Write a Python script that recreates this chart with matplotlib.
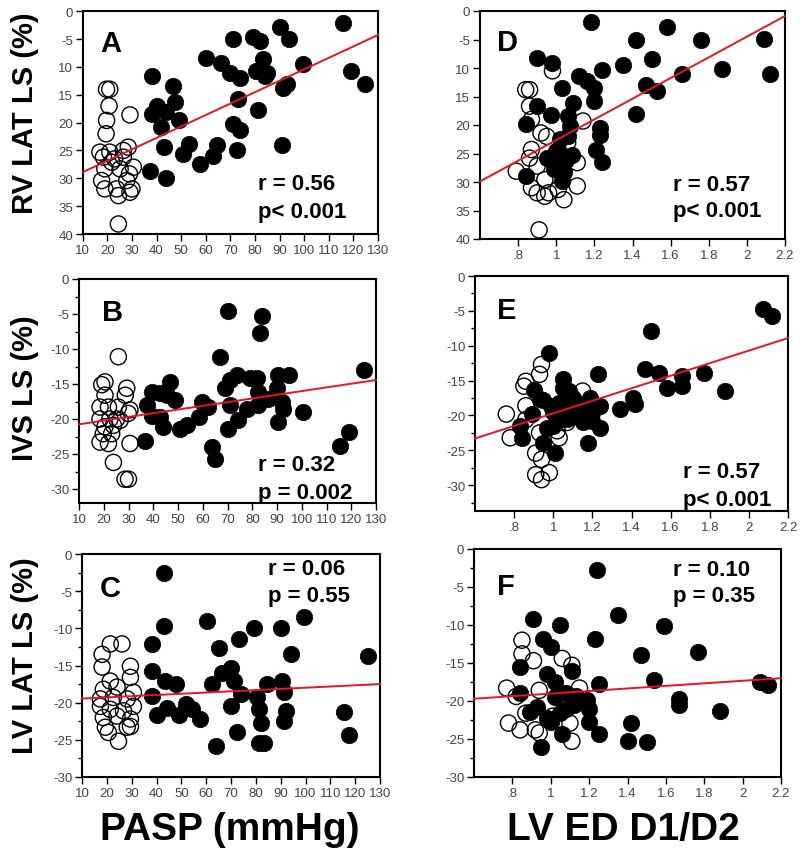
import matplotlib
matplotlib.use("Agg")
import matplotlib.pyplot as plt
from matplotlib.ticker import MultipleLocator

plt.rcParams['font.family'] = ['Liberation Sans', 'DejaVu Sans']

# ---------------- Panel A: RV LAT LS (magnitude, axis inverted) vs PASP
A_fill_x = [38, 40, 38, 43.7, 42, 43, 37.3, 44, 46.8, 47.5, 49, 50.6, 53, 57.6, 60.3, 63, 64.4,
            66.4, 69.8, 70.9, 71.2, 72.5, 73.2, 73.8, 74, 79.1, 81.9, 81.3, 80.6, 83.3, 84.7, 84,
            90, 94, 90.8, 91.5, 93, 99.6, 115.8, 119.2, 124.6]
A_fill_y = [11.7, 17, 18.5, 18, 20.8, 24.4, 28.6, 30, 13.5, 16.3, 19.6, 25.6, 23.8, 27.4, 8.4, 26, 24.1,
            9.2, 11, 5, 20.2, 25, 15.8, 21.4, 11.9, 4.7, 5.3, 17.8, 10.7, 8.6, 11, 11.6,
            2.9, 5, 24.1, 13.7, 13, 9.5, 2.1, 10.7, 13.1]
A_open_x = [19.7, 21, 20.7, 19.7, 19.5, 29.2, 17, 18.4, 21, 23, 19, 26.5, 28.5, 26.5, 19, 23.8, 24.5,
            30, 29.2, 30.6, 27.9, 25.2, 17.7, 24.5, 21.8, 29]
A_open_y = [14, 14, 17, 19.6, 22, 18.6, 25.3, 26.2, 25.3, 26.5, 28.3, 26.2, 24.4, 25, 31.9, 31.9, 33.1,
            31.9, 32.5, 28, 30.4, 28.3, 30.4, 38.2, 27.1, 29.2]
A_fit = (28.9, -0.2054)   # value at x=10, slope

# ---------------- Panel D: RV LAT LS vs LV ED D1/D2
D_fill_x = [1.18, 1.58, 1.42, 1.76, 2.09, 1.50, 1.35, 1.24, 1.87, 2.12, 1.66, 1.47, 1.53, 1.42, 0.90,
            0.98, 1.12, 1.16, 1.20, 1.20, 1.03, 1.09, 0.90, 0.97, 0.84, 1.06, 1.07, 1.23, 1.23, 1.21,
            1.24, 1.02, 1.01, 1.08, 0.95, 0.99, 1.03, 0.84, 1.05, 1.02, 1.04, 1.00, 1.06]
D_fill_y = [1.9, 2.8, 5, 5, 4.9, 8.5, 9.4, 10.4, 10.2, 11, 11.1, 12.9, 14.1, 18, 8.2,
            9.1, 11.4, 12.3, 13.5, 15.8, 13.5, 16.1, 16.7, 18.2, 19.9, 18.4, 20.2, 20.5, 21.7, 24.3,
            26.5, 22.5, 24.3, 25.2, 25.8, 27.8, 29.9, 28.9, 26.1, 26.8, 28.2, 24.6, 22.0]
D_open_x = [0.86, 0.84, 0.98, 0.86, 0.87, 0.92, 0.95, 0.87, 0.86, 0.79, 0.87, 0.90, 0.94, 0.96, 1.01,
            1.04, 1.11, 1.11, 1.14, 0.91, 1.06, 0.94, 0.90]
D_open_y = [13.8, 13.8, 10.5, 16.7, 19, 21.4, 22, 24.3, 25.8, 28.1, 31, 31.9, 32.5, 31.9, 31.3,
            33.1, 26.6, 30.7, 19.3, 38.4, 23.1, 29.6, 27.2]
D_fit = (29.9, -18.14)    # value at x=0.6, slope

# ---------------- Panel B: IVS LS vs PASP
B_fill_x = [70.4, 83.9, 83.2, 67, 125, 90.6, 94.7, 79.2, 81.9, 73.8, 71.1, 46.8, 69, 90, 82.5, 39.4,
            42.8, 45.5, 48.8, 37.4, 59.6, 62.3, 71.1, 82.5, 92, 92.6, 39.4, 42.8, 100.7, 74.4, 90.6,
            58.3, 44, 50.8, 53.5, 70.4, 36.7, 63.7, 65, 115.6, 119, 77.8, 86.4]
B_fill_y = [-4.6, -5.3, -7.7, -11.1, -13, -13.7, -13.7, -14.2, -14.2, -13.7, -14.4, -14.7, -15.6, -15.6,
            -16.1, -16.1, -16.3, -16.6, -17.3, -18, -17.5, -18.3, -18, -18, -17.5, -18.5, -19.5, -19.7,
            -19, -20.2, -20.4, -19.7, -21.1, -21.4, -20.9, -21.4, -23.2, -24, -25.7, -23.8, -21.9,
            -18.5, -17.1]
B_open_x = [25.9, 19.2, 20.5, 29.3, 28.7, 20.5, 18.5, 21.9, 25.9, 30.6, 18.5, 22.5, 26.6, 29.9, 20.5,
            23.9, 19.8, 18.5, 21.9, 30.6, 23.9, 28.6, 30, 25.2, 23.2]
B_open_y = [-11.1, -15.1, -14.7, -15.6, -16.6, -16.6, -18.3, -18.3, -18.3, -18.7, -20, -20, -20.2,
            -19.2, -21.1, -20.9, -22.1, -23.3, -23.5, -23.5, -26.2, -28.6, -28.6, -20, -22.1]
B_fit = (-20.76, 0.05275)

# ---------------- Panel E: IVS LS vs LV ED D1/D2
E_fill_x = [2.07, 2.12, 1.50, 0.98, 1.23, 1.47, 1.54, 1.66, 1.77, 1.58, 1.66, 1.88, 1.41, 1.42, 1.34,
            1.05, 1.08, 0.90, 0.93, 0.99, 1.03, 1.12, 1.19, 1.24, 1.20, 1.14, 1.20, 1.24, 1.03, 0.97,
            0.83, 0.84, 0.95, 1.01, 1.18, 1.08, 1.00, 0.89, 1.05, 1.10, 1.13, 1.07, 1.00, 0.95, 1.15]
E_fill_y = [-4.8, -5.7, -7.9, -11, -14.1, -13.4, -13.9, -14.3, -13.9, -16, -15.8, -16.5, -17.5, -18.4,
            -19.1, -14.8, -16.5, -16.3, -17.7, -18.6, -18.2, -18.6, -17.5, -18.6, -19.6, -20.1, -20.8,
            -21.8, -20.6, -21.8, -21.5, -23.2, -23.9, -25.4, -23.9, -19.4, -21.5, -19.8, -16.0, -17.5,
            -19.0, -20.5, -19.5, -17.8, -21.0]
E_open_x = [0.94, 0.93, 0.86, 0.85, 1.15, 0.76, 0.86, 0.86, 0.78, 0.91, 0.94, 0.91, 0.98, 0.94, 1.03,
            1.02, 1.07, 0.93]
E_open_y = [-12.7, -14.1, -15.1, -15.8, -16.5, -19.8, -18.6, -20.6, -23.2, -25.4, -26.3, -28.5, -28.2,
            -29.2, -23.2, -22.2, -21.0, -22.5]
E_fit = (-23.3, 9.0)

# ---------------- Panel C: LV LAT LS vs PASP
C_fill_x = [43, 43, 38.2, 38.2, 38.2, 40.3, 43.6, 47.7, 44.3, 49, 51.7, 54.4, 57.7, 60.4, 62.5, 65.1,
            63.8, 66.5, 69.9, 71.2, 69.9, 73.9, 72.5, 73.2, 79.3, 80.6, 81.3, 82, 81.3, 83.3, 84.6,
            90, 90.7, 91.4, 92.1, 91.4, 94.1, 99.4, 115.6, 117.6, 125]
C_fill_y = [-2.6, -9.7, -12.1, -15.7, -19.1, -21.6, -17.1, -17.5, -20.7, -21.6, -20.2, -20.9, -22.2,
            -9, -17.5, -12.6, -25.8, -16, -15.3, -17.1, -20.4, -18.9, -24, -11.5, -9.9, -19.3, -20.9,
            -22.7, -25.4, -25.4, -17.5, -9.9, -17.1, -18.6, -21.1, -22.5, -13.5, -8.5, -21.3, -24.3,
            -13.7]
C_open_x = [21.4, 26.1, 18.1, 18.1, 29.5, 29.5, 21.4, 18.6, 24.1, 30.7, 17.4, 22.6, 28.2, 17.4, 30.7,
            21.4, 26.7, 18.6, 24.1, 29.5, 19.4, 28.2, 20.6, 24.7, 29.5]
C_open_y = [-12.1, -12.1, -13.5, -15.2, -15.1, -16.6, -17.1, -18.2, -17.9, -18.6, -19.5, -19.3, -19.5,
            -20.5, -20.5, -20.9, -21.1, -22, -21.8, -22.2, -23.3, -23.3, -24, -25.2, -23.2]
C_fit = (-19.45, 0.01625)

# ---------------- Panel F: LV LAT LS vs LV ED D1/D2
F_fill_x = [1.24, 1.35, 0.91, 1.05, 1.59, 1.23, 0.96, 1.00, 1.47, 1.77, 0.84, 1.11, 0.98, 1.54, 1.25,
            1.02, 1.08, 2.09, 2.13, 0.84, 1.19, 1.67, 1.67, 1.20, 0.89, 1.05, 1.88, 0.98, 1.20, 1.42,
            1.06, 1.25, 1.40, 1.50, 0.95, 0.93, 1.13, 1.02, 1.08, 1.00, 1.12]
F_fill_y = [-2.8, -8.7, -9.2, -10, -10.1, -11.8, -11.8, -12.9, -14, -13.6, -15.5, -16, -16.4, -17.3,
            -17.7, -17.5, -19, -17.5, -17.9, -19, -19.9, -19.7, -20.5, -21, -21.4, -21.6, -21.3,
            -22.3, -22.7, -22.9, -24.4, -24.4, -25.3, -25.4, -26, -20.8, -19.4, -19.5, -21.0, -22.8,
            -20.5]
F_open_x = [0.85, 0.85, 0.91, 1.06, 1.11, 0.77, 0.94, 1.15, 0.87, 0.78, 0.84, 0.92, 0.94, 1.11, 1.10,
            0.82, 1.01]
F_open_y = [-12, -13.8, -14.7, -14.4, -15.3, -18.3, -18.6, -18.3, -21.6, -22.9, -23.8, -23.8, -24.2,
            -25.3, -22.9, -19.4, -22]
F_fit = (-19.7, 1.6875)

left_ticks = list(range(10, 131, 10))
left_ticklabels = [str(t) for t in left_ticks]
right_ticks = [0.8, 1.0, 1.2, 1.4, 1.6, 1.8, 2.0, 2.2]
right_ticklabels = ['.8', '1', '1.2', '1.4', '1.6', '1.8', '2', '2.2']
rv_yticks = [0, 5, 10, 15, 20, 25, 30, 35, 40]
rv_yticklabels = ['0', '-5', '10', '15', '20', '25', '30', '35', '40']

fig = plt.figure(figsize=(8.0, 8.54), dpi=100)

W, H = 800.0, 854.0
def box(l, r, t, b):
    return [l / W, 1 - b / H, (r - l) / W, (b - t) / H]

panels = [
    dict(name='A', rect=box(82.7, 378, 12.3, 235), fx=A_fill_x, fy=A_fill_y, ox=A_open_x, oy=A_open_y,
         fit=A_fit, x0=10, xlim=(10, 130), ylim=(40, 0), side='L', rv=True,
         r='r = 0.56', p='p< 0.001', rpos=(0.594, 0.225, 0.10), lpos=(0.06, 0.858)),
    dict(name='D', rect=box(480, 785, 12, 240), fx=D_fill_x, fy=D_fill_y, ox=D_open_x, oy=D_open_y,
         fit=D_fit, x0=0.6, xlim=(0.6, 2.2), ylim=(40, 0), side='R', rv=True,
         r='r = 0.57', p='p< 0.001', rpos=(0.633, 0.24, 0.123), lpos=(0.055, 0.864)),
    dict(name='B', rect=box(79, 376, 280, 504), fx=B_fill_x, fy=B_fill_y, ox=B_open_x, oy=B_open_y,
         fit=B_fit, x0=10, xlim=(10, 130), ylim=(-32, 0), side='L', rv=False,
         r='r = 0.32', p='p = 0.002', rpos=(0.603, 0.174, 0.049), lpos=(0.077, 0.853)),
    dict(name='E', rect=box(475, 788, 277, 512), fx=E_fill_x, fy=E_fill_y, ox=E_open_x, oy=E_open_y,
         fit=E_fit, x0=0.6, xlim=(0.6, 2.2), ylim=(-33.7, 0), side='R', rv=False,
         r='r = 0.57', p='p< 0.001', rpos=(0.665, 0.166, 0.051), lpos=(0.07, 0.855)),
    dict(name='C', rect=box(82, 380, 555, 778), fx=C_fill_x, fy=C_fill_y, ox=C_open_x, oy=C_open_y,
         fit=C_fit, x0=10, xlim=(10, 130), ylim=(-30, 0), side='L', rv=False,
         r='r = 0.06', p='p = 0.55', rpos=(0.624, 0.933, 0.812), lpos=(0.06, 0.848)),
    dict(name='F', rect=box(474, 781, 550, 778), fx=F_fill_x, fy=F_fill_y, ox=F_open_x, oy=F_open_y,
         fit=F_fit, x0=0.6, xlim=(0.6, 2.2), ylim=(-30, 0), side='R', rv=False,
         r='r = 0.10', p='p = 0.35', rpos=(0.648, 0.912, 0.794), lpos=(0.075, 0.838)),
]

tick_color = '#444444'
for P in panels:
    ax = fig.add_axes(P['rect'])
    ax.scatter(P['ox'], P['oy'], s=135, facecolors='none', edgecolors='black', linewidths=1.0, zorder=2)
    ax.scatter(P['fx'], P['fy'], s=140, c='black', edgecolors='black', linewidths=0.5, zorder=3)
    x0 = P['x0']
    x1 = P['xlim'][1]
    y0 = P['fit'][0]
    y1 = y0 + P['fit'][1] * (x1 - x0)
    ax.plot([x0, x1], [y0, y1], color='#e8141e', lw=1.4, zorder=4, clip_on=False)
    ax.set_xlim(*P['xlim'])
    ax.set_ylim(*P['ylim'])
    if P['side'] == 'L':
        ax.set_xticks(left_ticks)
        ax.set_xticklabels(left_ticklabels)
    else:
        ax.set_xticks(right_ticks)
        ax.set_xticklabels(right_ticklabels)
    if P['rv']:
        ax.set_yticks(rv_yticks)
        ax.set_yticklabels(rv_yticklabels)
    else:
        ax.yaxis.set_major_locator(MultipleLocator(5))
        ax.yaxis.set_minor_locator(MultipleLocator(2.5))
        ax.set_yticklabels([f'{int(t)}' for t in ax.get_yticks()])
    ax.tick_params(axis='both', which='major', direction='out', length=5, width=1.0,
                   labelsize=9.5, labelcolor=tick_color, top=False, right=False, pad=2)
    ax.tick_params(axis='y', which='minor', direction='out', length=3, width=1.0)
    for sp in ax.spines.values():
        sp.set_linewidth(1.5)
    ax.text(P['lpos'][0], P['lpos'][1], P['name'], transform=ax.transAxes, fontsize=21,
            fontweight='bold', ha='left', va='center', zorder=5)
    ax.text(P['rpos'][0], P['rpos'][1], P['r'], transform=ax.transAxes, fontsize=16,
            fontweight='bold', ha='left', va='center', zorder=5)
    ax.text(P['rpos'][0], P['rpos'][2], P['p'], transform=ax.transAxes, fontsize=16,
            fontweight='bold', ha='left', va='center', zorder=5)

fig.text(25 / W, 1 - 113 / H, 'RV LAT LS (%)', rotation=90, fontsize=21, fontweight='bold',
         ha='center', va='center')
fig.text(25 / W, 1 - 388 / H, 'IVS LS (%)', rotation=90, fontsize=21, fontweight='bold',
         ha='center', va='center')
fig.text(25 / W, 1 - 656 / H, 'LV LAT LS (%)', rotation=90, fontsize=21, fontweight='bold',
         ha='center', va='center')
fig.text(230 / W, 1 - 830 / H, 'PASP (mmHg)', fontsize=28, fontweight='bold', ha='center', va='center')
fig.text(623 / W, 1 - 830 / H, 'LV ED D1/D2', fontsize=28, fontweight='bold', ha='center', va='center')

fig.savefig('out.png', dpi=100)
